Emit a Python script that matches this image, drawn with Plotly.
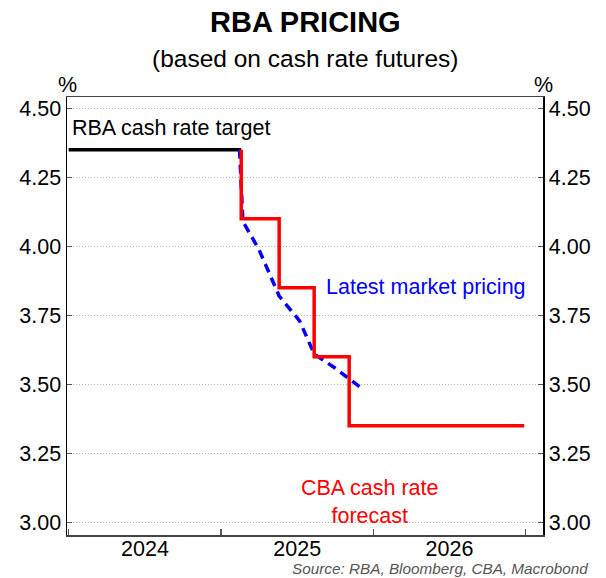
import plotly.graph_objects as go

# ---- data ----
target_dates = ["2024-01-01", "2025-02-18"]
target_values = [4.35, 4.35]

market_dates = ["2025-02-14", "2025-02-22", "2025-04-01", "2025-05-20", "2025-07-08",
                "2025-08-12", "2025-09-30", "2025-11-04", "2025-12-09"]
market_values = [4.35, 4.09, 3.99, 3.82, 3.73, 3.61, 3.56, 3.52, 3.48]

cba_dates = ["2025-02-18", "2025-02-18", "2025-05-20", "2025-08-12", "2025-11-04", "2026-12-29"]
cba_values = [4.35, 4.10, 3.85, 3.60, 3.35, 3.35]

y_ticks = [3.00, 3.25, 3.50, 3.75, 4.00, 4.25, 4.50]
y_tick_labels = ["3.00", "3.25", "3.50", "3.75", "4.00", "4.25", "4.50"]

FONT = "Liberation Sans, Arial, sans-serif"
FS = 21.5

fig = go.Figure()
fig.add_trace(go.Scatter(x=target_dates, y=target_values, mode="lines",
                         line=dict(color="black", width=3.5), hoverinfo="skip"))
fig.add_trace(go.Scatter(x=market_dates, y=market_values, mode="lines",
                         line=dict(color="#0000FF", width=3.5, dash="9px,6px"), hoverinfo="skip"))
fig.add_trace(go.Scatter(x=cba_dates, y=cba_values, mode="lines", line_shape="hv",
                         line=dict(color="#FF0000", width=3.5), hoverinfo="skip"))
# invisible trace so the right-hand axis is drawn
fig.add_trace(go.Scatter(x=cba_dates, y=cba_values, yaxis="y2", mode="lines",
                         line=dict(width=0), opacity=0, hoverinfo="skip"))

yaxis_common = dict(
    range=[2.954, 4.541], tickvals=y_ticks, ticktext=y_tick_labels,
    ticks="inside", ticklen=5, tickcolor="#555", tickwidth=1.5,
    showline=True, linecolor="black", linewidth=1.5,
    tickfont=dict(family=FONT, size=FS, color="black"),
    zeroline=False, fixedrange=True,
)

fig.update_layout(
    width=606, height=578,
    margin=dict(l=67, r=63, t=97, b=43, autoexpand=False),
    paper_bgcolor="white", plot_bgcolor="white",
    showlegend=False,
    xaxis=dict(
        type="date", range=["2023-12-28", "2027-02-12"],
        tick0="2024-01-01", dtick="M12", tickformat="%Y", ticklabelmode="period",
        ticks="inside", ticklen=6, tickcolor="#555", tickwidth=1.5,
        ticklabelstandoff=-6,
        showline=True, mirror=True, linecolor="#444", linewidth=1.5,
        showgrid=False, zeroline=False, fixedrange=True,
        tickfont=dict(family=FONT, size=FS, color="black"),
    ),
    yaxis=dict(**yaxis_common, side="left", showgrid=True, gridcolor="#b0b0b0",
               griddash="1px,2px", gridwidth=1),
    yaxis2=dict(**yaxis_common, side="right", overlaying="y", showgrid=False),
)

ann = [
    dict(text="<b>RBA PRICING</b>", x=0.5, y=1.171, font=dict(size=29, color="black")),
    dict(text="(based on cash rate futures)", x=0.5, y=1.089, font=dict(size=24.5, color="black")),
    dict(text="%", x=0.0, y=1.027, font=dict(size=FS, color="black")),
    dict(text="%", x=1.0, y=1.027, font=dict(size=FS, color="black")),
    dict(text="<i>Source: RBA, Bloomberg, CBA, Macrobond</i>", x=1.099, y=-0.077, xanchor="right",
         font=dict(size=15.3, color="#555")),
]
for a in ann:
    a.setdefault("xanchor", "center")
    a.update(xref="paper", yref="paper", yanchor="middle", showarrow=False)
    a["font"]["family"] = FONT
    fig.add_annotation(**a)

fig.add_annotation(text="RBA cash rate target", x="2024-01-03", y=4.43, xref="x", yref="y",
                   xanchor="left", yanchor="middle", showarrow=False,
                   font=dict(family=FONT, size=FS, color="black"))
fig.add_annotation(text="Latest market pricing", x="2025-09-04", y=3.853, xref="x", yref="y",
                   xanchor="left", yanchor="middle", showarrow=False,
                   font=dict(family=FONT, size=FS, color="#0000FF"))
fig.add_annotation(text="CBA cash rate<br>forecast", x="2025-12-22", y=3.072, xref="x", yref="y",
                   xanchor="center", yanchor="middle", showarrow=False,
                   font=dict(family=FONT, size=FS, color="#FF0000"))

fig.write_html("out.html", config={"displayModeBar": False, "staticPlot": True},
               post_script="document.body.style.margin='0';document.body.style.padding='0';")
